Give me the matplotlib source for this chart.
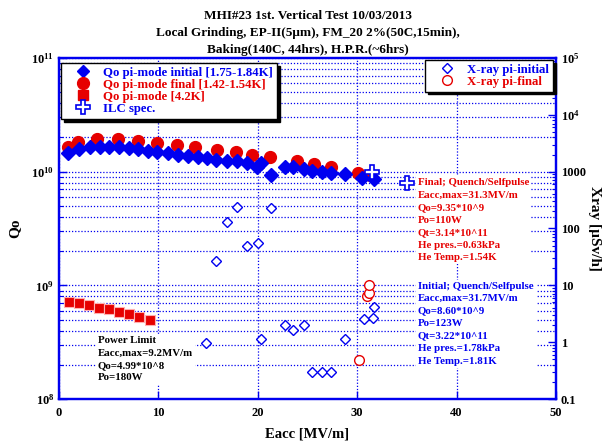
import matplotlib
matplotlib.use('Agg')
import matplotlib.pyplot as plt
from matplotlib.lines import Line2D
from matplotlib.ticker import LogLocator, NullFormatter

plt.rcParams['font.family'] = 'Liberation Serif'
plt.rcParams['font.weight'] = 'bold'
plt.rcParams['mathtext.fontset'] = 'custom'
plt.rcParams['mathtext.rm'] = 'Liberation Serif:bold'
plt.rcParams['mathtext.it'] = 'Liberation Serif:bold'
plt.rcParams['mathtext.bf'] = 'Liberation Serif:bold'

BLUE = '#0000f0'
RED = '#e60000'

# Qo vs Eacc, pi-mode, initial measurement (1.75-1.84K)
eacc_init = [0.9, 2.0, 3.1, 4.1, 5.0, 6.0, 7.0, 7.9, 9.0, 9.9, 11.0, 12.0, 13.0,
             14.0, 14.9, 15.8, 16.9, 17.9, 18.9, 19.9, 20.3, 21.3, 22.7, 23.5,
             24.6, 25.5, 26.5, 27.4, 28.8, 30.5, 31.7]
qo_init = [1.45e10, 1.57e10, 1.66e10, 1.66e10, 1.66e10, 1.64e10, 1.60e10, 1.57e10,
           1.53e10, 1.50e10, 1.45e10, 1.40e10, 1.38e10, 1.34e10, 1.31e10, 1.27e10,
           1.24e10, 1.24e10, 1.20e10, 1.09e10, 1.19e10, 9.3e9, 1.11e10, 1.10e10,
           1.05e10, 1.02e10, 1.0e10, 9.7e9, 9.5e9, 8.75e9, 8.60e9]

# final measurement (1.42-1.54K)
eacc_final = [0.9, 1.9, 3.8, 5.9, 7.9, 9.9, 11.9, 13.7, 15.9, 17.8, 19.4, 21.2,
              23.9, 25.7, 27.4, 30.1, 31.3]
qo_final = [1.66e10, 1.81e10, 1.93e10, 1.93e10, 1.87e10, 1.80e10, 1.72e10, 1.66e10,
            1.55e10, 1.48e10, 1.40e10, 1.34e10, 1.23e10, 1.17e10, 1.11e10, 9.8e9, 9.35e9]

# 4.2K
eacc_42k = [1.0, 2.0, 3.0, 4.0, 5.0, 6.0, 7.0, 8.0, 9.2]
qo_42k = [7.2e8, 6.96e8, 6.73e8, 6.37e8, 6.16e8, 5.87e8, 5.6e8, 5.24e8, 4.99e8]

# ILC specification
eacc_ilc = [31.5, 35.0]
qo_ilc = [1.0e10, 8.0e9]

# X-ray dose rate [uSv/h]
eacc_xi = [14.8, 15.8, 16.9, 17.9, 18.9, 20.0, 20.3, 21.3, 22.7, 23.5, 24.6, 25.5,
           26.5, 27.4, 28.8, 30.7, 31.6, 31.7]
xray_init = [0.98, 26.8, 132, 236, 49, 55, 1.15, 226, 2.03, 1.64, 2.03, 0.295,
             0.295, 0.295, 1.15, 2.52, 2.69, 4.2]
eacc_xf = [30.15, 31.0, 31.2, 31.2]
xray_final = [0.485, 6.5, 7.2, 10.1]

fig = plt.figure(figsize=(6.08, 4.45), dpi=100)
ax = fig.add_axes([59 / 608, 46 / 445, 497 / 608, 341 / 445])
ax2 = ax.twinx()

ax.set_xlim(0, 50)
ax.set_yscale('log')
ax.set_ylim(1e8, 1e11)
ax2.set_yscale('log')
ax2.set_ylim(0.1, 1e5)

# grid on the Qo axis: x majors and all y decades + subdecades
ax.grid(True, which='major', axis='x', color=BLUE, linestyle=(0, (1, 1.5)), lw=0.9)
ax.grid(True, which='both', axis='y', color=BLUE, linestyle=(0, (1, 1.5)), lw=0.9)
ax.set_axisbelow(True)

ax.plot(eacc_final, qo_final, 'o', color=RED, ms=8.5, mec=RED, zorder=3)
ax.plot(eacc_init, qo_init, 'D', color=BLUE, ms=6.8, mec=BLUE, zorder=4)
ax.plot(eacc_42k, qo_42k, 's', color=RED, ms=7, mec='#ffb0b0', mew=0.8, zorder=3)
ax.plot(eacc_ilc, qo_ilc, 'P', mfc='white', mec=BLUE, ms=10, mew=1.2, zorder=5)

ax2.plot(eacc_xi, xray_init, 'D', mfc='white', mec=BLUE, ms=5, mew=1.0, zorder=3)
ax2.plot(eacc_xf, xray_final, 'o', mfc='white', mec=RED, ms=7, mew=1.0, zorder=3)

ax.set_xticks(range(0, 51, 10))
ax.set_yticks([1e8, 1e9, 1e10, 1e11])
ax.set_yticklabels([r'$10^{8}$', r'$10^{9}$', r'$10^{10}$', r'$10^{11}$'])
ax.yaxis.set_minor_locator(LogLocator(base=10, subs=range(2, 10)))
ax.yaxis.set_minor_formatter(NullFormatter())

ax2.set_yticks([0.1, 1, 10, 100, 1000, 1e4, 1e5])
ax2.set_yticklabels(['0.1', '1', '10', '100', '1000', r'$10^{4}$', r'$10^{5}$'])
ax2.yaxis.set_minor_locator(LogLocator(base=10, subs=range(2, 10)))
ax2.yaxis.set_minor_formatter(NullFormatter())

for a in (ax, ax2):
    a.tick_params(which='both', direction='in', color=BLUE, labelsize=9)
    a.tick_params(which='major', length=6, width=1)
    a.tick_params(which='minor', length=3, width=0.8)
    for sp in a.spines.values():
        sp.set_color(BLUE)
        sp.set_linewidth(1.6)
ax.tick_params(axis='x', pad=6)

ax.set_xlabel('Eacc [MV/m]', fontsize=10.5, fontweight='bold', labelpad=6)
ax.set_ylabel('Qo', fontsize=11, fontweight='bold', labelpad=7)
ax2.set_ylabel('Xray [µSv/h]', fontsize=11, fontweight='bold', rotation=270, labelpad=11)

fig.text(307.5 / 608, 1 - 16 / 445, 'MHI#23 1st. Vertical Test 10/03/2013',
         ha='center', va='center', fontsize=9.5, fontweight='bold')
fig.text(307.5 / 608, 1 - 33 / 445, 'Local Grinding, EP-II(5μm), FM_20 2%(50C,15min),',
         ha='center', va='center', fontsize=9.5, fontweight='bold')
fig.text(307.5 / 608, 1 - 49.5 / 445, 'Baking(140C, 44hrs), H.P.R.(~6hrs)',
         ha='center', va='center', fontsize=9.5, fontweight='bold')

# legends
h_left = [
    Line2D([], [], ls='none', marker='D', color=BLUE, ms=6.5),
    Line2D([], [], ls='none', marker='o', color=RED, ms=8.5),
    Line2D([], [], ls='none', marker='s', color=RED, ms=7),
    Line2D([], [], ls='none', marker='P', mfc='white', mec=BLUE, ms=10, mew=1.2),
]
lab_left = ['Qo pi-mode initial [1.75-1.84K]', 'Qo pi-mode final [1.42-1.54K]',
            'Qo pi-mode [4.2K]', 'ILC spec.']
leg_kw = dict(borderaxespad=0, fontsize=9.2, frameon=True, fancybox=False,
              edgecolor='black', framealpha=1, shadow={'color': 'black', 'alpha': 1},
              handlelength=2.8, handletextpad=0.2, labelspacing=0.0, borderpad=0.3)
leg1 = ax2.legend(h_left, lab_left, loc='upper left', bbox_to_anchor=(0.004, 0.985),
                  labelcolor=[BLUE, RED, RED, BLUE], **leg_kw)
leg1.get_frame().set_linewidth(1.0)
ax2.add_artist(leg1)

h_right = [
    Line2D([], [], ls='none', marker='D', mfc='white', mec=BLUE, ms=5),
    Line2D([], [], ls='none', marker='o', mfc='white', mec=RED, ms=7),
]
leg2 = ax2.legend(h_right, ['X-ray pi-initial', 'X-ray pi-final'], loc='upper right',
                  bbox_to_anchor=(0.994, 0.994), labelcolor=[BLUE, RED], **leg_kw)
leg2.get_frame().set_linewidth(1.0)

# quench / power limit notes
box = dict(facecolor='white', edgecolor='none', pad=1.5)
note_kw = dict(transform=ax2.transAxes, ha='left', va='top', fontsize=7.8,
               linespacing=1.5, bbox=box, zorder=6)
ax2.text(0.722, 0.648,
         'Final; Quench/Selfpulse\nEacc,max=31.3MV/m\nQo=9.35*10^9\nPo=110W\n'
         'Qt=3.14*10^11\nHe pres.=0.63kPa\nHe Temp.=1.54K',
         color=RED, **note_kw)
ax2.text(0.722, 0.344,
         'Initial; Quench/Selfpulse\nEacc,max=31.7MV/m\nQo=8.60*10^9\nPo=123W\n'
         'Qt=3.22*10^11\nHe pres.=1.78kPa\nHe Temp.=1.81K',
         color=BLUE, **note_kw)
ax2.text(0.078, 0.185,
         'Power Limit\nEacc,max=9.2MV/m\nQo=4.99*10^8\nPo=180W',
         color='black', **note_kw)

fig.savefig('out.png', dpi=100)
